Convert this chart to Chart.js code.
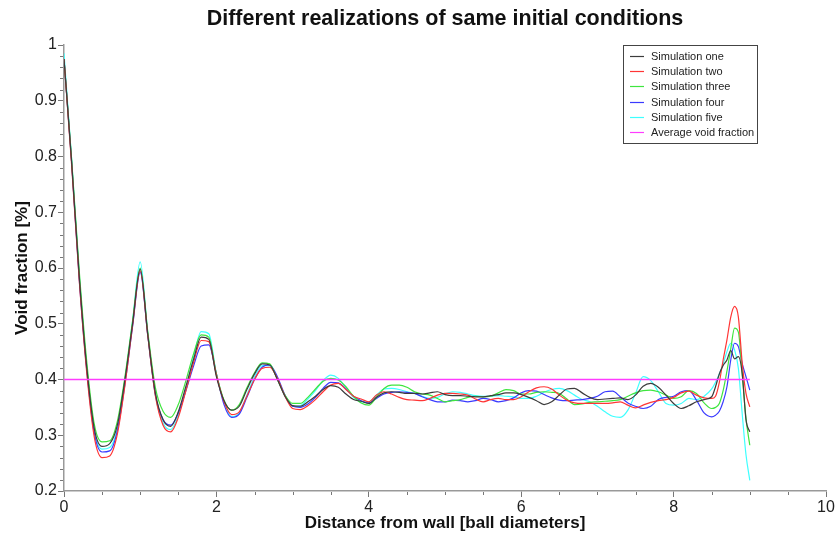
<!DOCTYPE html>
<html>
<head>
<meta charset="utf-8">
<script src="https://cdn.jsdelivr.net/npm/chart.js@4.4.1/dist/chart.umd.min.js"></script>
<style>
  html, body { margin: 0; padding: 0; background: #fff; }
  #wrap { width: 838px; height: 537px; }
</style>
</head>
<body>
<div id="wrap"><canvas id="voidChart" width="838" height="537"></canvas></div>
<script>
// etäisyys seinästä (pallon halkaisijoina)
const distance = [
  0.0, 0.1, 0.2, 0.3, 0.4, 0.5, 0.6, 0.7, 0.8, 0.9,
  1.0, 1.1, 1.2, 1.3, 1.4, 1.5, 1.6, 1.7, 1.8, 1.9,
  2.0, 2.1, 2.2, 2.3, 2.4, 2.5, 2.6, 2.7, 2.8, 2.9,
  3.0, 3.1, 3.2, 3.3, 3.4, 3.5, 3.6, 3.7, 3.8, 3.9,
  4.0,
  4.1, 4.2, 4.3, 4.4, 4.5, 4.6, 4.7, 4.8, 4.9, 5.0,
  5.1, 5.2, 5.3, 5.4, 5.5, 5.6, 5.7, 5.8, 5.9, 6.0,
  6.1, 6.2, 6.3, 6.4, 6.5, 6.6, 6.7, 6.8, 6.9, 7.0,
  7.1, 7.2, 7.3, 7.4, 7.5, 7.6, 7.7, 7.8, 7.9, 8.0,
  8.1, 8.2, 8.3, 8.4, 8.5,
  8.55, 8.6, 8.65, 8.7, 8.75, 8.8, 8.85, 8.9, 8.95, 9.0
];

const simOne = [
  0.975, 0.79, 0.585, 0.42, 0.31, 0.28, 0.285, 0.318, 0.40, 0.50,
  0.598, 0.48, 0.375, 0.328, 0.316, 0.342, 0.388, 0.436, 0.476, 0.472,
  0.405, 0.362, 0.345, 0.352, 0.382, 0.41, 0.428, 0.426, 0.40, 0.37,
  0.353, 0.352, 0.36, 0.37, 0.382, 0.389, 0.386, 0.374, 0.364, 0.361,
  0.357,
  0.368, 0.376, 0.378, 0.377, 0.375, 0.375, 0.374, 0.376, 0.378, 0.373,
  0.371, 0.371, 0.37, 0.369, 0.369, 0.371, 0.373, 0.376, 0.376, 0.373,
  0.368, 0.362, 0.355, 0.36, 0.372, 0.383, 0.384, 0.376, 0.368, 0.364,
  0.365, 0.366, 0.367, 0.364, 0.372, 0.388, 0.393, 0.386, 0.372, 0.357,
  0.348, 0.353, 0.36, 0.364, 0.369,
  0.387, 0.41, 0.425, 0.435, 0.452, 0.437, 0.441, 0.411, 0.328, 0.306
];

const simTwo = [
  0.975, 0.785, 0.578, 0.41, 0.295, 0.26, 0.263, 0.302, 0.39, 0.497,
  0.595, 0.478, 0.37, 0.318, 0.306, 0.332, 0.38, 0.43, 0.47, 0.468,
  0.408, 0.36, 0.337, 0.342, 0.37, 0.40, 0.42, 0.422, 0.402, 0.37,
  0.348, 0.346, 0.353, 0.364, 0.378, 0.39, 0.393, 0.382, 0.37, 0.365,
  0.36,
  0.372, 0.378, 0.374, 0.368, 0.364, 0.363, 0.362, 0.366, 0.372, 0.375,
  0.375, 0.374, 0.372, 0.365, 0.36, 0.364, 0.366, 0.364, 0.364, 0.369,
  0.378, 0.385, 0.387, 0.383, 0.372, 0.363, 0.358, 0.357, 0.357, 0.357,
  0.357, 0.358, 0.36, 0.354, 0.349, 0.354, 0.359, 0.362, 0.364, 0.368,
  0.376, 0.379, 0.372, 0.367, 0.366,
  0.37, 0.395, 0.435, 0.471, 0.512, 0.531, 0.512, 0.43, 0.375, 0.351
];

const simThree = [
  0.975, 0.795, 0.595, 0.43, 0.318, 0.288, 0.29, 0.325, 0.405, 0.505,
  0.60, 0.485, 0.385, 0.343, 0.332, 0.355, 0.398, 0.446, 0.48, 0.476,
  0.41, 0.363, 0.345, 0.355, 0.385, 0.412, 0.43, 0.428, 0.40, 0.372,
  0.357, 0.357, 0.368, 0.383, 0.397, 0.402, 0.399, 0.387, 0.37, 0.358,
  0.354,
  0.368, 0.384, 0.39, 0.39, 0.386, 0.378, 0.374, 0.372, 0.366, 0.36,
  0.362, 0.364, 0.368, 0.37, 0.369, 0.37, 0.376, 0.382, 0.38, 0.374,
  0.374, 0.377, 0.378, 0.377, 0.375, 0.365, 0.355, 0.356, 0.359, 0.36,
  0.361, 0.362, 0.364, 0.37, 0.376, 0.38, 0.381, 0.378, 0.372, 0.366,
  0.369, 0.38, 0.375, 0.358, 0.348,
  0.35, 0.357, 0.38, 0.415, 0.455, 0.492, 0.485, 0.411, 0.33, 0.282
];

const simFour = [
  0.975, 0.79, 0.58, 0.415, 0.302, 0.27, 0.272, 0.308, 0.392, 0.495,
  0.592, 0.478, 0.372, 0.328, 0.318, 0.34, 0.38, 0.424, 0.46, 0.462,
  0.41, 0.355, 0.332, 0.338, 0.368, 0.40, 0.422, 0.426, 0.405, 0.372,
  0.352, 0.35, 0.356, 0.368, 0.384, 0.395, 0.394, 0.383, 0.37, 0.362,
  0.358,
  0.366, 0.374, 0.377, 0.378, 0.377, 0.375, 0.369, 0.364, 0.36, 0.36,
  0.363, 0.362, 0.36, 0.362, 0.366, 0.364, 0.36, 0.362, 0.367, 0.376,
  0.38, 0.379, 0.373, 0.367, 0.363, 0.362, 0.363, 0.364, 0.366, 0.37,
  0.378, 0.379, 0.369, 0.358, 0.352, 0.348, 0.352, 0.364, 0.368, 0.37,
  0.378, 0.38, 0.363, 0.34, 0.333,
  0.336, 0.343, 0.36, 0.387, 0.435, 0.465, 0.459, 0.429, 0.405, 0.381
];

const simFive = [
  0.985, 0.795, 0.588, 0.418, 0.305, 0.275, 0.278, 0.312, 0.398, 0.505,
  0.611, 0.482, 0.372, 0.322, 0.31, 0.336, 0.383, 0.44, 0.486, 0.482,
  0.41, 0.36, 0.333, 0.34, 0.372, 0.405, 0.425, 0.425, 0.402, 0.37,
  0.352, 0.353, 0.365, 0.38, 0.398, 0.408, 0.402, 0.385, 0.368, 0.36,
  0.36,
  0.372, 0.383, 0.384, 0.382, 0.378, 0.375, 0.37, 0.366, 0.368, 0.374,
  0.378, 0.377, 0.374, 0.371, 0.37, 0.37, 0.371, 0.37, 0.369, 0.366,
  0.366, 0.37, 0.377, 0.382, 0.384, 0.38, 0.372, 0.364, 0.36, 0.352,
  0.342, 0.334, 0.332, 0.345, 0.375, 0.405, 0.398, 0.378, 0.357, 0.354,
  0.357, 0.366, 0.364, 0.37, 0.383,
  0.395, 0.41, 0.428, 0.45, 0.465, 0.453, 0.42, 0.339, 0.265, 0.219
];

// keskimääräinen huokoisuus, vaakaviiva
const averageX = [0, 9.0];
const averageVoid = [0.4, 0.4];

const seriesNames = ['Simulation one', 'Simulation two', 'Simulation three',
  'Simulation four', 'Simulation five', 'Average void fraction'];
const seriesColors = ['#3c3c3c', '#ff3535', '#3fe53f', '#3a3aff', '#3dffff', 'rgb(255,60,255)'];

const xTicks = [0, 2, 4, 6, 8, 10];
const yTicks = [0.2, 0.3, 0.4, 0.5, 0.6, 0.7, 0.8, 0.9, 1];

const fontFam = "'Liberation Sans', Arial, Helvetica, sans-serif";
Chart.defaults.font.family = fontFam;

function pisteet(xs, ys) {
  return xs.map((x, i) => ({ x: x, y: ys[i] }));
}

const allSeries = [simOne, simTwo, simThree, simFour, simFive];
const datasets = allSeries.map((arr, i) => ({
  label: seriesNames[i],
  data: pisteet(distance, arr),
  borderColor: seriesColors[i],
  borderWidth: 1.2,
  pointRadius: 0,
  fill: false,
  cubicInterpolationMode: 'monotone'
}));
datasets.push({
  label: seriesNames[5],
  data: pisteet(averageX, averageVoid),
  borderColor: seriesColors[5],
  backgroundColor: seriesColors[5],
  borderWidth: 1.4,
  pointRadius: 0,
  fill: false,
  order: -1
});

// pienet väliviivat akseleille + oma selite
const extras = {
  id: 'extras',
  afterDraw(chart) {
    const ctx = chart.ctx;
    const xs = chart.scales.x, ys = chart.scales.y;
    ctx.save();
    ctx.strokeStyle = '#777';
    ctx.lineWidth = 1;
    ctx.beginPath();
    for (let k = 11; k < 50; k++) {
      if (k % 5 === 0) continue;
      const py = Math.round(ys.getPixelForValue(k * 0.02)) + 0.5;
      ctx.moveTo(xs.left - 1, py);
      ctx.lineTo(xs.left - 4, py);
    }
    for (let k = 1; k < 20; k++) {
      if (k % 4 === 0) continue;
      const px = Math.round(xs.getPixelForValue(k * 0.5)) + 0.5;
      ctx.moveTo(px, ys.bottom + 1);
      ctx.lineTo(px, ys.bottom + 4);
    }
    ctx.stroke();

    // selite
    const bx = 623, by = 45, bw = 134, bh = 98;
    ctx.fillStyle = '#fff';
    ctx.fillRect(bx, by, bw, bh);
    ctx.strokeStyle = '#444';
    ctx.strokeRect(bx + 0.5, by + 0.5, bw, bh);
    ctx.font = '11px ' + fontFam;
    ctx.textBaseline = 'middle';
    chart.data.datasets.forEach((ds, i) => {
      const ry = Math.round(by + 11 + i * 15.2) + 0.5;
      ctx.strokeStyle = ds.borderColor;
      ctx.lineWidth = 1.2;
      ctx.beginPath();
      ctx.moveTo(bx + 7, ry);
      ctx.lineTo(bx + 21, ry);
      ctx.stroke();
      ctx.fillStyle = '#222';
      ctx.fillText(ds.label, bx + 28, ry);
    });
    ctx.restore();
  }
};

new Chart(document.getElementById('voidChart').getContext('2d'), {
  type: 'line',
  data: { datasets: datasets },
  plugins: [extras],
  options: {
    responsive: false,
    animation: false,
    devicePixelRatio: 1,
    layout: { padding: { top: 0, right: 12, bottom: 0, left: 0 } },
    plugins: {
      legend: { display: false },
      tooltip: { enabled: false },
      title: {
        display: true,
        fullSize: false,
        text: 'Different realizations of same initial conditions',
        color: '#111',
        font: { size: 21.5, weight: 'bold' },
        padding: { top: 6, bottom: 13.2 }
      }
    },
    scales: {
      x: {
        type: 'linear',
        min: 0,
        max: 10,
        afterFit: (s) => { s.height = 46; },
        afterBuildTicks: (s) => { s.ticks = xTicks.map(v => ({ value: v })); },
        ticks: {
          color: '#222',
          font: { size: 16 },
          padding: 1,
          maxRotation: 0,
          callback: (v) => String(v)
        },
        grid: { drawOnChartArea: false, tickLength: 6, tickColor: '#777' },
        border: { color: '#999', width: 1.5 },
        title: {
          display: true,
          text: 'Distance from wall [ball diameters]',
          color: '#111',
          font: { size: 17, weight: 'bold' },
          padding: { top: 0, bottom: 3 }
        }
      },
      y: {
        type: 'linear',
        min: 0.2,
        max: 1,
        afterFit: (s) => { s.width = 64; },
        afterBuildTicks: (s) => { s.ticks = yTicks.map(v => ({ value: v })); },
        ticks: {
          color: '#222',
          font: { size: 16 },
          padding: 1,
          callback: (v) => String(+v.toFixed(1))
        },
        grid: { drawOnChartArea: false, tickLength: 6, tickColor: '#777' },
        border: { color: '#999', width: 1.5 },
        title: {
          display: true,
          text: 'Void fraction [%]',
          color: '#111',
          font: { size: 17, weight: 'bold' },
          padding: { top: 12, bottom: 0 }
        }
      }
    }
  }
});
</script>
</body>
</html>
